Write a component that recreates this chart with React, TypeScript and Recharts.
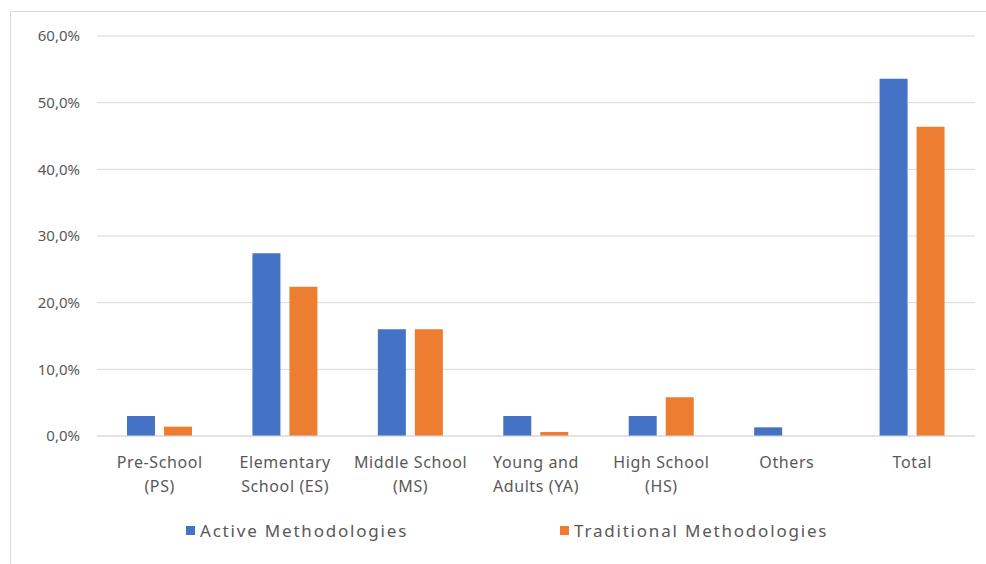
import { BarChart, Bar, XAxis, YAxis, CartesianGrid, Legend } from "recharts";

const BLUE = "#4472C4", ORANGE = "#ED7D31", GRID = "#d9d9d9", TEXT = "#595959";
const FONT = "'Noto Sans', sans-serif";

const categories = ["Pre-School\n(PS)", "Elementary\nSchool (ES)", "Middle School\n(MS)", "Young and\nAdults (YA)", "High School\n(HS)", "Others", "Total"];
const active = [3.0, 27.4, 16.0, 3.0, 3.0, 1.3, 53.6];
const traditional = [1.4, 22.4, 16.0, 0.6, 5.8, 0, 46.4];
const yTicks = [0, 10, 20, 30, 40, 50, 60];
const seriesNames = ["Active Methodologies", "Traditional Methodologies"];

const data = categories.map((c, i) => ({ name: c, active: active[i], traditional: traditional[i] }));
const pct = (v: number) => v.toFixed(1).replace(".", ",") + "%";

function CatTick({ x, y, payload }: any) {
  const lines = String(payload.value).split("\n");
  return (
    <text x={x} y={y + 24} textAnchor="middle" fill={TEXT} fontSize={16} letterSpacing={0.6} fontFamily={FONT}>
      {lines.map((l, i) => <tspan key={i} x={x} dy={i === 0 ? 0 : 24}>{l}</tspan>)}
    </text>
  );
}

function LegendBox() {
  const item = (color: string, label: string, left: number) => (
    <div style={{ position: "absolute", left, top: 0, display: "flex", alignItems: "center", height: 24 }}>
      <span style={{ width: 9, height: 9, background: color, marginRight: 5 }} />
      <span style={{ fontSize: 17, letterSpacing: 1.8, color: TEXT, fontFamily: FONT }}>{label}</span>
    </div>
  );
  return (
    <div style={{ position: "relative", width: 986, height: 24 }}>
      {item(BLUE, seriesNames[0], 186)}
      {item(ORANGE, seriesNames[1], 560)}
    </div>
  );
}

export default function App() {
  return (
    <div style={{ position: "fixed", left: 0, top: 0, width: 986, height: 564, overflow: "hidden", background: "#fff" }}>
      <div style={{ position: "absolute", left: 10, top: 11, width: 1000, height: 600, border: "1px solid " + GRID }} />
      <div style={{ position: "absolute", left: 0, top: 0 }}>
        <BarChart width={986} height={564} data={data} margin={{ top: 36, right: 11, left: 0, bottom: 22 }} barSize={28} barGap={9}>
          <CartesianGrid vertical={false} stroke={GRID} />
          <XAxis dataKey="name" interval={0} tick={<CatTick />} tickLine={false} axisLine={{ stroke: GRID }} height={82} />
          <YAxis domain={[0, 60]} ticks={yTicks} tickFormatter={pct} axisLine={false} tickLine={false} width={97} tickMargin={11}
            tick={{ fill: TEXT, fontSize: 15, fontFamily: FONT }} />
          <Legend verticalAlign="bottom" content={() => <LegendBox />} wrapperStyle={{ left: 0, bottom: 22, width: 986 }} />
          <Bar dataKey="active" name={seriesNames[0]} fill={BLUE} isAnimationActive={false} />
          <Bar dataKey="traditional" name={seriesNames[1]} fill={ORANGE} isAnimationActive={false} />
        </BarChart>
      </div>
    </div>
  );
}
